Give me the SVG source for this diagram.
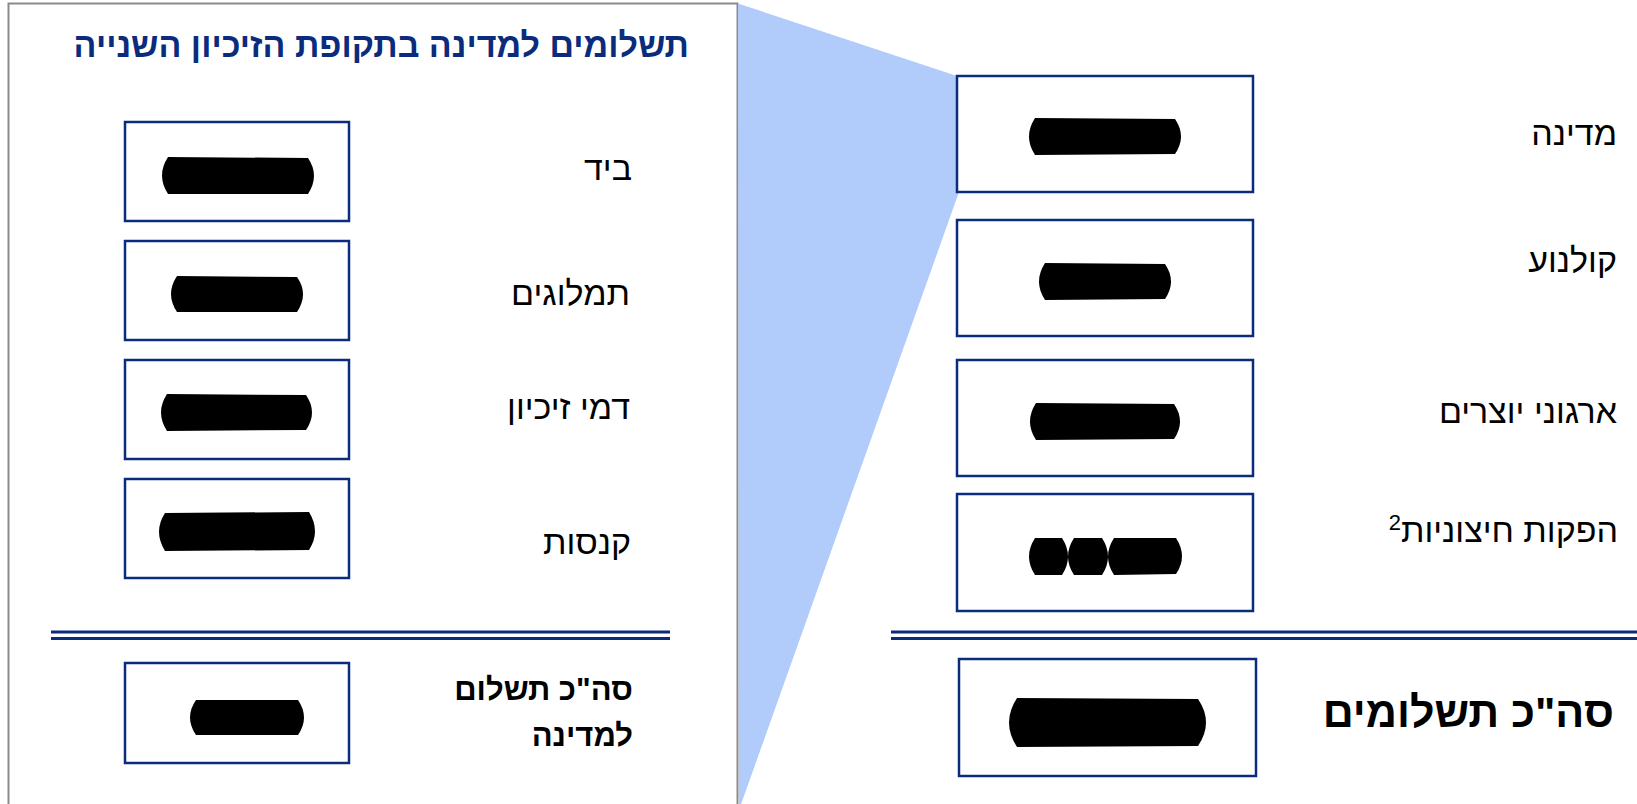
<svg xmlns="http://www.w3.org/2000/svg" width="1637" height="804" viewBox="0 0 1637 804">
<style>
.box{fill:#fff;stroke:#0B2C7C;stroke-width:2.5}
.blob{fill:#000}
.lbl{font-family:"Liberation Sans",Arial,sans-serif;font-size:34px;fill:#000;text-anchor:end}
.tot{font-family:"Liberation Sans",Arial,sans-serif;font-weight:bold;fill:#000;text-anchor:end}
.title{font-family:"Liberation Sans",Arial,sans-serif;font-weight:bold;font-size:34px;fill:#0B2C7C;text-anchor:end}
.dbl{stroke:#0B2C7C;stroke-width:3}
</style>
<rect width="1637" height="804" fill="#fff"/>
<g id="panel">
<rect x="8.5" y="3.5" width="729" height="830" fill="#fff" stroke="#8a8a8a" stroke-width="2"/>
<polygon points="738,3.5 957,76 959,192 739,810" fill="#B1CBFB"/>
<text class="title" x="689" y="57">תשלומים למדינה בתקופת הזיכיון השנייה</text>
</g>
<g id="connectors">
<line class="dbl" x1="51" y1="632" x2="670" y2="632"/>
<line class="dbl" x1="51" y1="638.5" x2="670" y2="638.5"/>
<line class="dbl" x1="891" y1="632" x2="1637" y2="632"/>
<line class="dbl" x1="891" y1="638.5" x2="1637" y2="638.5"/>
</g>
<g id="n-biyad">
<rect class="box" x="125" y="122" width="224" height="99"/>
<path class="blob" d="M168,157 L308,158 Q320,175.5 308,194 L168,194 Q156,175.5 168,157 Z"/>
<text class="lbl" x="632" y="180">ביד</text>
</g>
<g id="n-tamlugim">
<rect class="box" x="125" y="241" width="224" height="99"/>
<path class="blob" d="M177,276 L297,277 Q309,294 297,312 L177,312 Q165,294 177,276 Z"/>
<text class="lbl" x="630" y="305">תמלוגים</text>
</g>
<g id="n-dmei">
<rect class="box" x="125" y="360" width="224" height="99"/>
<path class="blob" d="M167,394 L306,395 Q318,412.5 306,430 L167,431 Q155,412.5 167,394 Z"/>
<text class="lbl" x="630" y="419">דמי זיכיון</text>
</g>
<g id="n-knasot">
<rect class="box" x="125" y="479" width="224" height="99"/>
<path class="blob" d="M165,513 L309,512 Q321,531.5 309,550 L165,551 Q153,531.5 165,513 Z"/>
<text class="lbl" x="631" y="554">קנסות</text>
</g>
<g id="n-total-left">
<rect class="box" x="125" y="663" width="224" height="100"/>
<path class="blob" d="M196,700 L298,700 Q310,717.5 298,735 L196,735 Q184,717.5 196,700 Z"/>
<text class="tot" font-size="31" x="633" y="700">סה"כ תשלום<tspan x="633" dy="46">למדינה</tspan></text>
</g>
<g id="n-medina">
<rect class="box" x="957" y="76" width="296" height="116"/>
<path class="blob" d="M1035,118 L1175,119 Q1187,136.5 1175,154 L1035,155 Q1023,136.5 1035,118 Z"/>
<text class="lbl" x="1617" y="145">מדינה</text>
</g>
<g id="n-kolnoa">
<rect class="box" x="957" y="220" width="296" height="116"/>
<path class="blob" d="M1045,263 L1165,264 Q1177,281.5 1165,299 L1045,300 Q1033,281.5 1045,263 Z"/>
<text class="lbl" x="1617" y="272">קולנוע</text>
</g>
<g id="n-irgunei">
<rect class="box" x="957" y="360" width="296" height="116"/>
<path class="blob" d="M1036,403 L1174,404 Q1186,421.5 1174,439 L1036,440 Q1024,421.5 1036,403 Z"/>
<text class="lbl" x="1617" y="423">ארגוני יוצרים</text>
</g>
<g id="n-hafakot">
<rect class="box" x="957" y="494" width="296" height="117"/>
<path class="blob" d="M1035,538 L1062,538 Q1074,556.5 1062,575 L1035,575 Q1023,556.5 1035,538 Z"/>
<path class="blob" d="M1074,538 L1102,538 Q1114,556.5 1102,575 L1074,575 Q1062,556.5 1074,538 Z"/>
<path class="blob" d="M1114,538 L1176,538 Q1188,556.5 1176,574 L1114,575 Q1102,556.5 1114,538 Z"/>
<text class="lbl" x="1618" y="542">הפקות חיצוניות<tspan font-size="22" baseline-shift="super">2</tspan></text>
</g>
<g id="n-total-right">
<rect class="box" x="959" y="659" width="297" height="117"/>
<path class="blob" d="M1017,698 L1198,699 Q1214,722.5 1198,746 L1017,747 Q1001,722.5 1017,698 Z"/>
<text class="tot" font-size="43" x="1614" y="727">סה"כ תשלומים</text>
</g>
</svg>
